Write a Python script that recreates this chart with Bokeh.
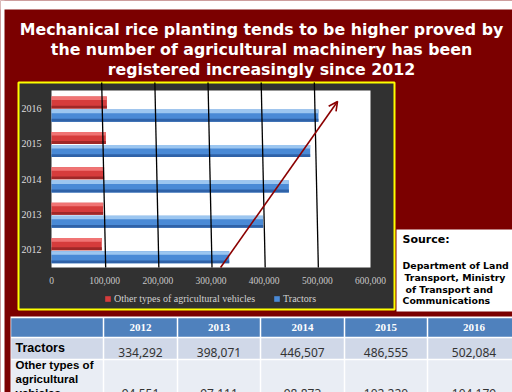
from bokeh.plotting import figure
from bokeh.models import (ColumnDataSource, Range1d, FixedTicker, LinearAxis,
                          NumeralTickFormatter, Label, Arrow, OpenHead, Legend,
                          LegendItem)
from bokeh.transform import dodge
from bokeh.embed import file_html
from bokeh.resources import INLINE

# ---- data -------------------------------------------------------------
years = ["2012", "2013", "2014", "2015", "2016"]
tractors = [334292, 398071, 446507, 486555, 502084]
other_vehicles = [94551, 97111, 98873, 102220, 104179]
x_ticks = [0, 100000, 200000, 300000, 400000, 500000, 600000]

title_lines = [
    "Mechanical rice planting tends to be higher proved by",
    "the number of agricultural machinery has been",
    "registered increasingly since 2012",
]
source_head = "Source:"
source_lines = ["Department of Land", "Transport, Ministry",
                "of Transport and", "Communications"]
row_names = ["Tractors", ["Other types of", "agricultural", "vehicles"]]

# ---- page geometry (pixels from the top-left corner) --------------------
W, H = 512, 392
DARK_RED = "#7b0000"
PLOT_L, PLOT_R, PLOT_T, PLOT_B = 51, 370, 90, 267
X_MAX = 600000
n = len(years)
BASELINE_ADJ = 4.5   # labels sit a little low with an alphabetic baseline

p = figure(width=W, height=H, x_range=Range1d(0, W), y_range=Range1d(H, 0),
           output_backend="svg", toolbar_location=None,
           x_axis_location=None, y_axis_location=None, min_border=0)
p.background_fill_color = DARK_RED
p.border_fill_color = DARK_RED
p.outline_line_color = None
p.grid.visible = False

# value scale for the bars and a category scale (category i centred on i)
px_per_val = (PLOT_R - PLOT_L) / X_MAX
cat_px = (PLOT_B - PLOT_T) / n
p.extra_x_ranges = {"val": Range1d(-PLOT_L / px_per_val,
                                   X_MAX + (W - PLOT_R) / px_per_val)}
p.extra_y_ranges = {"cat": Range1d(-0.5 - (H - PLOT_B) / cat_px,
                                   n - 0.5 + PLOT_T / cat_px)}


def panel(x0, y0, x1, y1, fill, line=None, lw=1):
    p.quad(left=[x0], right=[x1], top=[y0], bottom=[y1], fill_color=fill,
           line_color=line, line_width=lw)


def text(x, y, s, size, color="black", font="Liberation Sans",
         style="bold", align="left"):
    p.add_layout(Label(x=x, y=y - BASELINE_ADJ, text=s, text_font=font,
                       text_font_size=size, text_font_style=style,
                       text_color=color, text_align=align,
                       text_baseline="alphabetic"))


# ---- backdrop panels ------------------------------------------------------
panel(0, 0, W, 9, "white")
panel(0, 0, 4, H, "white")
panel(18, 82, 394, 309, "#313131", line="#ffff00", lw=2)
panel(PLOT_L, PLOT_T, PLOT_R, PLOT_B, "white")
panel(396, 229, W, 311, "white")

# ---- bars (with simple bevel shading) ---------------------------------------
src = ColumnDataSource(dict(pos=list(range(n)), year=years,
                            tractors=tractors, other=other_vehicles))
BAR_H = 0.34
RED_OFF, BLUE_OFF = 0.16, -0.21


def shaded_bar(field, off, base, light, dark):
    kw = dict(left=0, right=field, line_color=None, source=src,
              x_range_name="val", y_range_name="cat")
    r = p.hbar(y=dodge("pos", off), height=BAR_H, fill_color=base, **kw)
    p.hbar(y=dodge("pos", off + BAR_H / 2 - 0.05), height=0.10,
           fill_color=light, **kw)
    p.hbar(y=dodge("pos", off - BAR_H / 2 + 0.04), height=0.08,
           fill_color=dark, **kw)
    return r


red_r = shaded_bar("other", RED_OFF, "#d63c3c", "#f07474", "#a02828")
blue_r = shaded_bar("tractors", BLUE_OFF, "#4a8ad6", "#9cc6f0", "#2f62a8")

# ---- axes fixed onto the plot area edges --------------------------------------
axis_style = dict(axis_line_color=None, major_tick_line_color=None,
                  minor_tick_line_color=None,
                  major_label_text_font="Liberation Serif")
xaxis = LinearAxis(x_range_name="val", fixed_location=PLOT_B,
                   ticker=FixedTicker(ticks=x_ticks),
                   formatter=NumeralTickFormatter(format="0,0"),
                   major_label_text_font_size="9.5px",
                   major_label_text_color="#c8c8c8",
                   major_label_standoff=3, **axis_style)
p.add_layout(xaxis, "below")
yaxis = LinearAxis(y_range_name="cat", fixed_location=PLOT_L,
                   ticker=FixedTicker(ticks=list(range(n))),
                   major_label_overrides={i: y for i, y in enumerate(years)},
                   major_label_text_font_size="10px",
                   major_label_text_color="#dedede",
                   major_label_standoff=4, **axis_style)
p.add_layout(yaxis, "left")

# hand-drawn guide lines at the tick values
top_cat = n - 0.5 + (PLOT_T - 82) / cat_px
for v in x_ticks[1:-1]:
    p.add_layout(Arrow(end=None, x_start=v + 1900, y_start=-0.5,
                       x_end=v - 5600, y_end=top_cat,
                       x_range_name="val", y_range_name="cat",
                       line_color="black", line_width=1.3))

# trend arrow
p.add_layout(Arrow(end=OpenHead(size=9, line_color="#8b0000", line_width=1.6),
                   x_start=318000, y_start=-0.5, x_end=538000, y_end=4.19,
                   x_range_name="val", y_range_name="cat",
                   line_color="#8b0000", line_width=1.6))

legend = Legend(items=[LegendItem(label="Other types of agricultural vehicles",
                                  renderers=[red_r]),
                       LegendItem(label="Tractors", renderers=[blue_r])],
                orientation="horizontal", location=(104, H - 304),
                background_fill_alpha=0, border_line_color=None,
                label_text_font="Liberation Serif", label_text_font_size="10px",
                label_text_color="#d0d0d0", glyph_width=7, glyph_height=7,
                label_height=10, label_standoff=3, spacing=18, padding=2,
                margin=0)
p.add_layout(legend)

# ---- title -------------------------------------------------------------------
for line, base in zip(title_lines, [33, 53.5, 73.5]):
    text(261, base, line, "15.8px", color="white", font="DejaVu Sans",
         align="center")

# ---- source note -------------------------------------------------------------
text(402, 243, source_head, "11px", font="DejaVu Sans")
for line, base, x in zip(source_lines, [269, 281, 293, 304], [402, 404, 405, 402]):
    text(x, base, line, "9.4px", font="DejaVu Sans")

# ---- data table ----------------------------------------------------------------
col_x = [10, 103, 177, 260, 344, 427, 520]
row_y = [317, 337, 359, 410]
row_fill = ["#4f81bd", "#d0d8e8", "#e9edf4"]
panel(10, 316, W, H, "white")
for r in range(3):
    for c in range(6):
        panel(col_x[c] + 0.75, row_y[r] + 0.75,
              col_x[c + 1] - 0.75, row_y[r + 1] - 0.75, row_fill[r])

for c, yr in enumerate(years):
    xc = (col_x[c + 1] + col_x[c + 2]) / 2
    text(xc, 331, yr, "11px", color="white", font="Liberation Serif",
         align="center")
    text(xc, 356.5, f"{tractors[c]:,}", "12px", color="#333333",
         font="Noto Sans", style="normal", align="center")
    text(xc, 397.5, f"{other_vehicles[c]:,}", "12px", color="#333333",
         font="Noto Sans", style="normal", align="center")

text(15, 352, row_names[0], "12.5px")
for line, base in zip(row_names[1], [369, 383, 397]):
    text(15, base, line, "11.5px")

open("out.html", "w").write(file_html(p, INLINE))
